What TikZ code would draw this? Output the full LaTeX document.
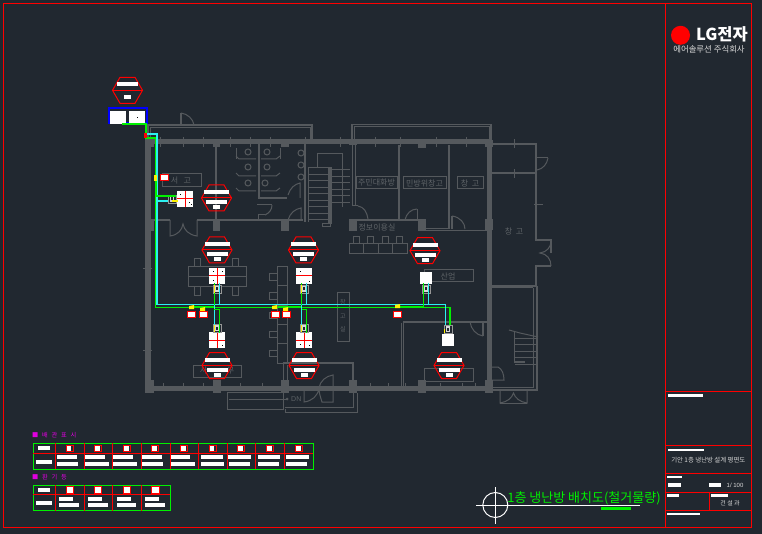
\documentclass[tikz,border=0pt]{standalone}
\usepackage{fontspec}
\setmainfont{Liberation Sans}
\newfontfamily\krfont{Noto Sans CJK KR}
\usepackage{tikz}
\usetikzlibrary{positioning}
\definecolor{bgc}{HTML}{212830}
\definecolor{wallc}{HTML}{55595D}
\definecolor{labelc}{HTML}{5E6367}
\definecolor{pipeg}{HTML}{00F000}
\definecolor{pipec}{HTML}{2CF0F0}
\definecolor{blockc}{HTML}{0000FF}
\definecolor{magc}{HTML}{E000E0}
\definecolor{inkc}{HTML}{D8D8D8}

% outline of a ceiling symbol
\newcommand{\hexline}[3]{%
	\draw [redline] (#2-7.5,#3-13) -- (#2+7.5,#3-13) -- (#2+15,#3) -- (#2+7.5,#3+13)
		-- (#2-7.5,#3+13) -- (#2-15,#3) -- cycle;
	\node (#1) at (#2,#3) [inner sep=0pt] {};
}
% one ceiling symbol: hexagon, bars, small tag
\newcommand{\hexsym}[3]{%
	\hexline{#1}{#2}{#3}
	\fill [white] (#2-12.5,#3-7.5) rectangle (#2+12.5,#3-3.5);
	\fill [white] (#2-10.5,#3+2) rectangle (#2+10.5,#3+6);
	\fill [white] (#2-3.5,#3+7.5) rectangle (#2+3.5,#3+11.5);
	\draw [redline] (#2-15,#3) -- (#2+15,#3);
}
% box with a dark core on the end of a branch
\newcommand{\branchbox}[3]{%
	\node (#1) at (#2,#3) [draw=inkc!70!black, fill=bgc, minimum size=8pt, inner sep=0pt] {};
	\fill [inkc] (#2-2,#3-3) rectangle (#2+2,#3+3);
	\fill [bgc] (#2-1,#3-1.5) rectangle (#2+1,#3+1.5);
}
\newcommand{\lgap}{\hspace{3.8pt}}

\begin{document}
\begin{tikzpicture}
[
	              x = 1pt,
	              y = -1pt,
	 redline/.style = { draw=red, line width=1pt },
	    wall/.style = { draw=wallc, line width=1pt },
	    slab/.style = { fill=wallc },
	 acunit/.style = { fill=white, minimum size=16pt, inner sep=0pt },
	  roomlabel/.style = { text=labelc, font=\krfont\fontsize{8}{8}\selectfont, inner sep=0pt },
	   rmbox/.style = { draw=wallc, line width=1pt, fill=none },
	  tagbox/.style = { draw=red, fill=white, line width=1pt, minimum width=8pt, minimum height=6pt, inner sep=0pt },
	  legend/.style = { text=magc, font=\krfont\fontsize{6.2}{6}\selectfont, anchor=west, inner sep=0pt },
	  greenp/.style = { draw=pipeg, line width=1.2pt },
	   cyanp/.style = { draw=pipec, line width=1.2pt },
	  thickg/.style = { draw=pipeg, line width=2pt },
	yellowp/.style = { fill=yellow }
]
	\useasboundingbox (0,0) rectangle (762,534);
	\fill [bgc] (0,0) rectangle (762,534);

	% drawing frame and title block
	\draw [redline] (3.5,3.5) rectangle (751.5,527);
	\draw [redline] (665,3.5) -- (665,527);
	\foreach \y in {391,445.3,473.3,492.3,510.3}
		\draw [redline] (665,\y) -- (752,\y);
	\draw [redline] (709.3,492.3) -- (709.3,510.3);
	\foreach \xa/\ya/\xb/\yb in {668/394/703/397,668/449/704/451,667/476/682/478,668/483/681/487,
			709/483/721/487,667/494/679/497,711/494/728/497,667/513/700/515}
		\fill [white] (\xa,\ya) rectangle (\xb,\yb);
	\node (sheetname) at (708.3,460) [text=inkc, font=\krfont\fontsize{6.4}{6}\selectfont, inner sep=0pt] {기안 1층 냉난방 설계 평면도};
	\node (sheetscale) at (735,485) [text=inkc, font=\fontsize{6}{6}\selectfont, inner sep=0pt] {1/ 100};
	\node (sheetdept) at (730,503) [text=inkc, font=\krfont\fontsize{6}{6}\selectfont, inner sep=0pt] {건 설 과};

	% logo
	\node (logodot) at (680.5,35.3) [fill=red, circle, minimum size=19pt, inner sep=0pt] {};
	\node (logotext) at (722,34.3) [text=white, font=\krfont\bfseries\fontsize{16.5}{16}\selectfont, inner sep=0pt] {LG전자};
	\node (logosub) at (709,49.3) [text=inkc, font=\krfont\fontsize{8.4}{8}\selectfont, inner sep=0pt] {에어솔루션 주식회사};

	% main walls
	\fill [slab] (145,139.5) rectangle (492,144.5);
	\fill [slab] (145,386) rectangle (492,391);
	\fill [slab] (145,139.5) rectangle (149.5,391);
	\fill [slab] (487,139.5) rectangle (491.5,391);
	\foreach \xa/\ya/\xb/\yb in {145/140/154/147,213/140/220/147,281/140/289/147,349/140/357/145,418/141/426/148,485/140/493/147,
			147/220/154/231,213/220/220/231,281/220/289/231,349/219/357/231,418/219/426/231,485/219/493/230,
			145/380/154/393,213/380/221/393,281/380/289/393,349/380/357/393,418/380/426/393,485/380/493/393}
		\fill [slab] (\xa,\ya) rectangle (\xb,\yb);
	\foreach \x in {160,183,203,230,250,270,305,340,375,400,436,466}
		\draw [wall] (\x,137) -- (\x,147);
	\foreach \x in {163,183,203,240,262,370,388,405,440,462,475}
		\draw [wall] (\x,383) -- (\x,391);
	\foreach \y in {269,350}
		\draw [wall] (143,\y) -- (152,\y);

	% top annexes
	\draw [wall, line width=1.5pt] (148,140) -- (148,125) -- (312,125) -- (312,140);
	\draw [wall] (150,140) -- (150,128) -- (310,128) -- (310,140);
	\draw [wall, line width=1.5pt] (352,140) -- (352,124.5) -- (491,124.5) -- (491,140);
	\draw [wall] (354,140) -- (354,127) -- (489,127) -- (489,140);
	\draw [wall, line width=1.5pt] (181,125) -- (181,113);
	\draw [wall] (181,113) .. controls (188,114) and (193,119) .. (194,125);
	\draw [wall] (181,125) -- (194,125);

	% left rooms
	\draw [wall] (150.5,144) -- (150.5,386);
	\draw [wall, line width=2.5pt] (216,144) -- (216,221);
	\draw [wall, line width=2pt] (148,220) -- (170,220);
	\draw [wall, line width=2pt] (197,220) -- (303,220);
	\draw [wall] (170,220) -- (170,236) .. controls (178,235) and (182,230) .. (183,224)
		.. controls (184,230) and (189,235) .. (197,236) -- (197,220);
	\draw [rmbox] (162,174) rectangle (201,187);
	\node (roomstore) at (181,180.5) [roomlabel] {서\ \ \ 고};

	% toilet block
	\draw [wall, line width=2pt] (258.5,144) -- (258.5,198) -- (287,198);
	\draw [wall] (257,205) -- (272,205);
	\draw [wall, line width=2pt] (304.5,144) -- (304.5,222);
	\foreach \y in {159,176,191} {
		\draw [wall] (236,\y-3) -- (239,\y) -- (256,\y);
		\draw [wall] (261,\y) -- (276,\y) -- (280,\y-3);
	}
	\draw [wall] (236,148) -- (236,159);
	\draw [wall] (280,148) -- (280,159);
	\foreach \cx/\cy in {248/152,267/152,248/167,267/167,248/183,265/183,301/153,301/165,301/177}
		\draw [wall] (\cx,\cy) circle [radius=3pt];
	\draw [wall] (288,220) .. controls (290,213) and (295,209) .. (301,208) -- (301,220);
	\draw [wall] (288,195) .. controls (290,188) and (295,184) .. (300,183) -- (300,198);
	\draw [wall] (258,220) -- (258,215) -- (265,215);
	\draw [wall] (265,215) .. controls (269,213) and (272,210) .. (272,205);

	% staircase
	\fill [slab] (328,167) rectangle (331.5,224);
	\foreach \i in {0,...,8}
		\draw [wall] (308,168+6.5*\i) -- (328,168+6.5*\i);
	\foreach \i in {0,...,5}
		\draw [wall] (331,170+6.5*\i) -- (350,170+6.5*\i);
	\draw [wall] (308,168) -- (308,222);
	\draw [wall] (317,168) -- (317,154) -- (342,154) -- (342,207);
	\draw [wall] (322,224) rectangle (330,227);

	% rooms on the right of the stairs
	\draw [wall] (352.5,145) -- (352.5,206);
	\draw [wall] (355.5,145) -- (355.5,206);
	\draw [wall] (352.5,206) -- (358,206);
	\draw [wall] (358,206) .. controls (364,207) and (367,212) .. (368,219);
	\draw [wall, line width=2pt] (399,145) -- (399,221);
	\draw [wall, line width=2pt] (449,145) -- (449,229);
	\draw [wall, line width=2pt] (349,220.5) -- (418,220.5);
	\draw [wall] (426,229) -- (449,229);
	\draw [wall] (426,231) -- (487,231);
	\draw [wall] (417,209) -- (417,220);
	\draw [wall] (405,220) .. controls (406,214) and (411,209) .. (417,209);
	\draw [wall, line width=1.5pt] (452,216) -- (452,229);
	\draw [wall] (452,216) .. controls (460,217) and (465,223) .. (465,229);
	\draw [rmbox] (356,177) rectangle (397,189);
	\draw [rmbox] (403,177) rectangle (446,189);
	\draw [rmbox] (457,177) rectangle (483,189);
	\node (roomtalk) at (376.5,183) [roomlabel] {주민대화방};
	\node (roomciv) at (424.5,183) [roomlabel] {민방위창고};
	\node (roomstock) at (470,183) [roomlabel] {창\ \ 고};
	\node (roominfo) at (377,228) [roomlabel] {정보이용실};
	\draw [rmbox] (349,244) rectangle (407,254);
	\foreach \x in {363,378,392}
		\draw [wall] (\x,244) -- (\x,254);
	\foreach \x in {353,367,382,396}
		\draw [wall] (\x,237) rectangle (\x+6,244);
	\draw [rmbox] (424,270) rectangle (473,282);
	\node (roomjob) at (448,276) [roomlabel] {산업};

	% right annex
	\draw [wall, line width=2pt] (492,144) -- (536,144) -- (536,240) -- (551,240) -- (551,253);
	\draw [wall, line width=2pt] (492,173.5) -- (536,173.5);
	\draw [wall] (537,158) -- (548,158);
	\draw [wall] (548,158) .. controls (547,164) and (543,169) .. (537,170);
	\draw [wall] (551,241) .. controls (551,247) and (547,252) .. (540,253)
		.. controls (547,254) and (551,259) .. (551,266);
	\draw [wall, line width=2pt] (551,266) -- (536,266) -- (536,286) -- (492,286);
	\draw [wall] (514,139) -- (514,148);
	\draw [wall] (514,169) -- (514,178);
	\draw [wall] (534,205) -- (543,205);
	\node (roomeast) at (514,231) [roomlabel] {창\ \ 고};

	% lower right annex
	\draw [wall] (492,288) -- (533,288);
	\draw [wall, line width=2pt] (536.5,286) -- (536.5,390) -- (492,390);
	\draw [wall] (533,288) -- (533,387) -- (492,387);
	\draw [wall] (500,391) -- (500,403) .. controls (507,402) and (512,398) .. (513.5,393)
		.. controls (515,398) and (520,402) .. (527,403) -- (527,391);
	\draw [wall] (500,403) -- (527,403);
	\draw [wall, line width=1.5pt] (514.5,332) -- (514.5,362) -- (525,362);
	\foreach \i in {0,...,4}
		\draw [wall] (515,338+6.5*\i) -- (536,338+6.5*\i);
	\draw [wall] (509,330) -- (520,333) -- (538,337);
	\draw [wall] (492,367) -- (498,367) .. controls (502,369) and (504,374) .. (504,380) -- (492,380);

	% meeting area
	\draw [rmbox] (188,267) rectangle (246,287);
	\draw [wall] (188,277) -- (246,277);
	\foreach \x in {194,232} {
		\draw [wall] (\x,259) rectangle (\x+6,267);
		\draw [wall] (\x,287) rectangle (\x+6,295);
	}
	\draw [rmbox] (277,267) rectangle (287,363);
	\foreach \y in {286,305,324,343}
		\draw [wall] (277,\y) -- (287,\y);
	\foreach \y in {274,293,312,331,350}
		\draw [wall] (269,\y) rectangle (277,\y+6.5);
	\draw [rmbox] (337,293) rectangle (349,341);
	\node (shelfa) at (343,302) [roomlabel, font=\krfont\fontsize{6}{6}\selectfont] {창};
	\node (shelfb) at (343,316) [roomlabel, font=\krfont\fontsize{6}{6}\selectfont] {고};
	\node (shelfc) at (343,329) [roomlabel, font=\krfont\fontsize{6}{6}\selectfont] {실};
	\draw [rmbox] (193,365) rectangle (241,377);
	\node (roomoffice) at (217,371) [roomlabel] {사\ \ \ \ \ \ \ \ \ \ \ 무};
	\draw [wall, line width=1.5pt] (403,322) -- (487,322);
	\draw [wall] (403,322) -- (403,386);
	\draw [wall] (401.5,323) -- (401.5,386);
	\draw [wall, line width=1.5pt] (483,322) -- (483,336);
	\draw [wall] (470,322) .. controls (471,329) and (476,335) .. (483,336);
	\draw [rmbox] (424,368) rectangle (473,381);

	% entrance
	\draw [wall, line width=2pt] (283,363) -- (353,363) -- (353,380);
	\draw [wall] (287,365) -- (287,382);
	\draw [wall] (283,363) -- (283,382);
	\draw [wall] (304,388) -- (304,402) .. controls (312,401) and (318,396) .. (319,388)
		.. controls (320,381) and (326,376) .. (333,375) -- (333,402) -- (322,402)
		.. controls (320,396) and (319,392) .. (319,388);
	\draw [wall, line width=2pt] (289,388) -- (304,388);
	\draw [wall, line width=2pt] (333,387) -- (349,387);
	\draw [wall] (227,392) rectangle (283,409);
	\draw [wall] (229,399) -- (287,399);
	\fill [wallc] (287,399) circle [radius=1.5pt];
	\node (stairdn) at (291,399) [roomlabel, anchor=west, font=\fontsize{7}{7}\selectfont] {DN};
	\draw [wall] (285,409) -- (285,412) -- (357,412) -- (357,393);
	\draw [wall] (285,407) -- (353,407) -- (353,393);

	% red boxes and white units
	\hexline{hexroof}{127.5}{90.3}
	\fill [white] (117,82) rectangle (138,86);
	\draw [redline] (112.5,90.3) -- (142.5,90.3);
	\fill [white] (124,95) rectangle (131,99);
	\hexsym{hexa}{216.5}{198}
	\hexsym{hexb}{217}{250}
	\hexsym{hexc}{303.5}{250}
	\hexsym{hexd}{425}{250.7}
	\hexsym{hexe}{217}{365.5}
	\hexsym{hexf}{304}{365.5}
	\hexsym{hexg}{449}{365.5}

	\node (outdoor) at (127.5,116) [draw=blockc, line width=2pt, minimum width=38pt, minimum height=15pt, inner sep=0pt] {};
	\fill [white] (110,111) rectangle (126,124);
	\fill [white] (129,111) rectangle (145,124);
	\fill [black] (136.5,117) rectangle (137.5,118);

	\node (unita) at (185,199) [acunit] {};
	\node (unitb) at (217,276) [acunit] {};
	\node (unitc) at (304,276) [acunit] {};
	\node (unitd) at (426,278) [acunit, minimum size=12pt] {};
	\node (unite) at (217,340) [acunit] {};
	\node (unitf) at (304,340) [acunit] {};
	\node (unitg) at (448,340) [acunit, minimum size=12pt] {};
	\foreach \u in {unita,unitb,unite,unitf} {
		\draw [redline] (\u.west) -- (\u.east);
		\draw [redline] (\u.north) -- (\u.south);
	}
	\draw [redline] (unitc.west) -- (unitc.east);
	\foreach \dx/\dy in {180/194,189/202,191/204,213/271,222/271,213/280,300/271,309/281,300/344,309/345,222/345}
		\fill [black] (\dx,\dy) rectangle (\dx+1,\dy+1);

	% piping
	\coordinate (gtop) at (146,124);
	\coordinate (gbend) at (146,138);
	\coordinate (gdrop) at (155.7,138);
	\coordinate (glow) at (155.7,307.3);
	\coordinate (gend) at (450,307.3);
	\coordinate (ctop) at (146,134);
	\coordinate (cdrop) at (157,134);
	\coordinate (clow) at (157,304.7);
	\coordinate (cend) at (445.7,304.7);
	\branchbox{boxa}{172}{199}
	\branchbox{boxb}{217}{289}
	\branchbox{boxc}{304}{289}
	\branchbox{boxd}{426}{289}
	\branchbox{boxe}{217}{328}
	\branchbox{boxf}{304}{328}
	\branchbox{boxg}{448}{329}

	\draw [greenp] (122,124) -- (gtop) -- (gbend) -- (gdrop) -- (glow) -- (gend) -- (gend |- boxg.north);
	\draw [cyanp] (ctop) -- (cdrop) -- (clow) -- (cend) -- (cend |- boxg.north);
	\fill [red] (144,133) rectangle (147,138);
	\draw [greenp] (155.7,196) -- (boxa.east |- 0,196);
	\draw [cyanp] (157,201) -- (boxa.west |- 0,201);
	\draw [thickg] (155.7,181) -- (155.7,196);
	\fill [yellowp] (154,175) rectangle (157,181);
	\fill [yellowp] (172,200.5) rectangle (178,202);

	\draw [greenp] (214.3,283) -- (214.3,307.3);
	\draw [cyanp] (219.3,283) -- (219.3,304.7);
	\draw [greenp] (301.5,283) -- (301.5,307.3);
	\draw [cyanp] (306.7,283) -- (306.7,304.7);
	\draw [greenp] (423.3,283) -- (423.3,307.3);
	\draw [cyanp] (428.3,283) -- (428.3,304.7);
	\draw [cyanp] (214.3,304.7) -- (214.3,332);
	\draw [greenp] (214.3,309.3) -- (219.3,309.3) -- (219.3,333);
	\draw [cyanp] (301.7,304.7) -- (301.7,332);
	\draw [greenp] (301.7,309.3) -- (306.7,309.3) -- (306.7,333);
	\foreach \x in {213.5,300.5} {
		\fill [yellowp] (\x,285) rectangle (\x+1,293);
		\fill [yellowp] (\x,325) rectangle (\x+1,332);
	}
	\fill [yellowp] (444,329) rectangle (445,333);
	\draw [thickg] (193,307.3) -- (214,307.3);
	\draw [thickg] (278,307.3) -- (301,307.3);
	\draw [thickg] (400,307.3) -- (423,307.3);

	% small controllers
	\node (tagroom) at (164,178) [tagbox] {};
	\node (taga) at (191,314) [tagbox] {};
	\node (tagb) at (203,314) [tagbox] {};
	\node (tagc) at (275,314) [tagbox] {};
	\node (tagd) at (286.5,314) [tagbox] {};
	\node (tage) at (397.5,314) [tagbox] {};
	\foreach \xa/\ya in {189/306,200/308,272/306,283/308,395/305}
		\fill [yellowp] (\xa,\ya) -- (\xa+5,\ya-1) -- (\xa+5,\ya+3) -- (\xa,\ya+3) -- cycle;

	% legend one
	\node (legendone) at (32,435.5) [legend] {■\lgap 배\lgap 관\lgap 표\lgap 시};
	\draw [greenp] (33.3,443.3) rectangle (313.3,469.3);
	\draw [redline] (33.3,453.3) -- (313.3,453.3);
	\foreach \x in {55,84,112.3,141.3,170.3,198.3,227.3,255.3,284.3}
		\draw [redline] (\x,443.3) -- (\x,469.3);
	\fill [white] (38,446) rectangle (50,450);
	\fill [white] (36,460) rectangle (52,464);
	\foreach \cx/\a/\b/\c/\d in {69.7/57/77/57/78,98.3/85/105/85/109,127/113/133/113/137,155.3/142/162/142/163,
			184.3/171/190/171/195,212.7/201/223/201/224,241.3/228/251/229/250,270.3/258/280/258/279,299/286/309/286/307} {
		\fill [white] (\a,455) rectangle (\b,459);
		\fill [white] (\c,462) rectangle (\d,466);
		\draw [redline, fill=white] (\cx-3.5,445) rectangle (\cx+3.5,451.7);
		\fill [bgc] (\cx+1.5,445.5) rectangle (\cx+3,451.2);
	}

	% legend two
	\node (legendtwo) at (32,477.5) [legend] {■\lgap 환\lgap 기\lgap 등};
	\draw [greenp] (33.3,485.3) rectangle (170.3,510.7);
	\draw [redline] (33.3,494.3) -- (170.3,494.3);
	\foreach \x in {55,84,112.3,141.3}
		\draw [redline] (\x,485.3) -- (\x,510.7);
	\fill [white] (38,488) rectangle (50,492);
	\fill [white] (36,501) rectangle (52,505);
	\foreach \cx/\a/\b/\c/\d in {69.7/59/73/59/79,98/88/102/88/108,127/117/131/117/136,155.3/145/159/145/165} {
		\fill [white] (\a,497) rectangle (\b,501);
		\fill [white] (\c,503) rectangle (\d,507);
		\draw [redline, fill=white] (\cx-3.7,486.7) rectangle (\cx+3.7,493.3);
	}

	% drawing title
	\node (titlemark) at (495.3,505) [draw=white, line width=1pt, circle, minimum size=25pt, inner sep=0pt] {};
	\coordinate (titleend) at (640,505);
	\draw [white, line width=1pt] (476,505) -- (titleend);
	\draw [white, line width=1pt] (495.3,487) -- (495.3,524);
	\node (titletext) at (584,498) [text=pipeg, font=\krfont\fontsize{13}{13}\selectfont, inner sep=0pt] {1층 냉난방 배치도(철거물량)};
	\fill [pipeg] (601,507) rectangle (631,510);

\end{tikzpicture}
\end{document}
